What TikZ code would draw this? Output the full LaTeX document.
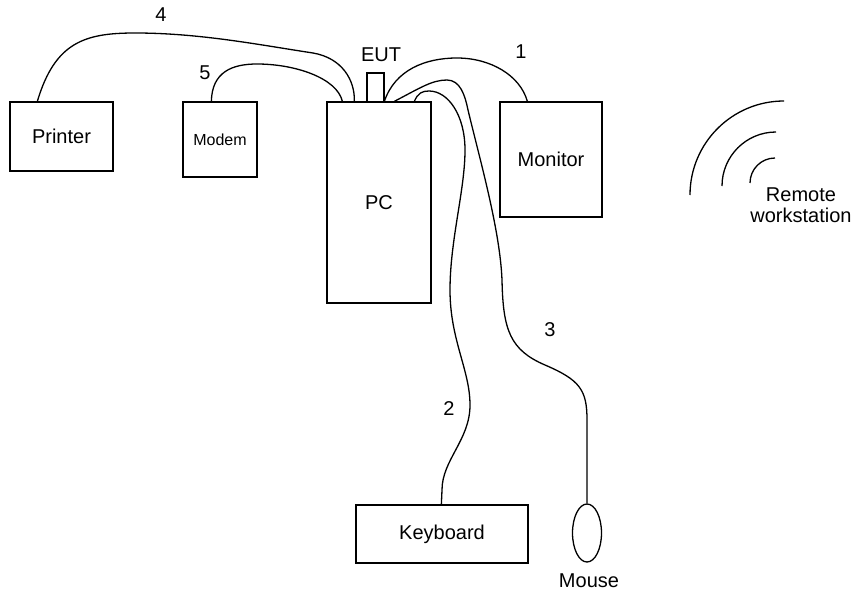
\documentclass[tikz,border=0pt]{standalone}
\usepackage{fontspec}
\setmainfont{Liberation Sans}
\usetikzlibrary{shapes.geometric}
\begin{document}
\begin{tikzpicture}[x=1pt, y=-1pt, line width=1.3pt,
    device/.style={draw, inner sep=0pt, font=\fontsize{20}{24}\selectfont},
    lbl/.style={inner sep=0pt, font=\fontsize{20}{24}\selectfont}]
  \useasboundingbox (0,0) rectangle (858,591);

  % equipment boxes
  \node[device, minimum width=103pt, minimum height=69pt] (printer) at (61.5,136.5) {Printer};
  \node[device, minimum width=74pt, minimum height=75pt, font=\fontsize{16}{19}\selectfont] (modem) at (220,139.5) {Modem};
  \node[device, minimum width=104pt, minimum height=201pt] (pc) at (379,202.5) {PC};
  \node[device, minimum width=17pt, minimum height=29pt] (eut) at (375.5,87.5) {};
  \node[device, minimum width=102pt, minimum height=115pt] (monitor) at (551,159.5) {Monitor};
  \node[device, minimum width=172pt, minimum height=58pt] (keyboard) at (442,534) {Keyboard};
  \node[draw, ellipse, inner sep=0pt, minimum width=29pt, minimum height=58pt] (mouse) at (587,533) {};

  % texts
  \node[lbl] (euttext) at (381,55) {EUT};
  \node[lbl] (mousetext) at (589,581) {Mouse};
  \node[lbl, align=center, font=\fontsize{20}{21}\selectfont] (remote) at (801,205) {Remote\\workstation};

  % cable numbers
  \node[lbl] (n1) at (521,52) {1};
  \node[lbl] (n2) at (449,409) {2};
  \node[lbl] (n3) at (550,330) {3};
  \node[lbl] (n4) at (161,15) {4};
  \node[lbl] (n5) at (205,73) {5};

  % cable 4: printer
  \draw ([xshift=28pt]printer.north west) .. controls (55,42) and (85,33) .. (135,33)
    .. controls (200,33) and (260,45) .. (313,53)
    .. controls (342,58) and (355,80) .. ([xshift=28pt]pc.north west);
  % cable 5: modem
  \draw ([xshift=29pt]modem.north west) .. controls (212,72) and (232,64) .. (257,64)
    .. controls (295,64) and (337,78) .. ([xshift=16pt]pc.north west);
  % cable 1: monitor
  \draw ([xshift=58pt]pc.north west) .. controls (395,70) and (425,58) .. (457,58)
    .. controls (490,58) and (520,75) .. ([xshift=28pt]monitor.north west);
  % cable 3: mouse
  \draw ([xshift=68pt]pc.north west) .. controls (420,88) and (432,80) .. (447,80)
    .. controls (460,80) and (465,95) .. (468,110)
    .. controls (480,160) and (500,230) .. (502,280)
    .. controls (503,330) and (510,350) .. (545,365)
    .. controls (580,380) and (587,390) .. (587,420)
    -- (mouse.north);
  % cable 2: keyboard
  \draw ([xshift=88pt]pc.north west) .. controls (418,93) and (422,91) .. (429,91)
    .. controls (448,91) and (465,115) .. (465,150)
    .. controls (465,190) and (450,240) .. (450,290)
    .. controls (450,340) and (470,370) .. (470,405)
    .. controls (470,440) and (442,460) .. (442,490)
    -- ([xshift=86pt]keyboard.north west);

  % wireless link
  \draw (690,195) arc[start angle=180, end angle=270, radius=94];
  \draw (722,186) arc[start angle=180, end angle=270, radius=54];
  \draw (750,183) arc[start angle=180, end angle=270, radius=25];
\end{tikzpicture}
\end{document}
